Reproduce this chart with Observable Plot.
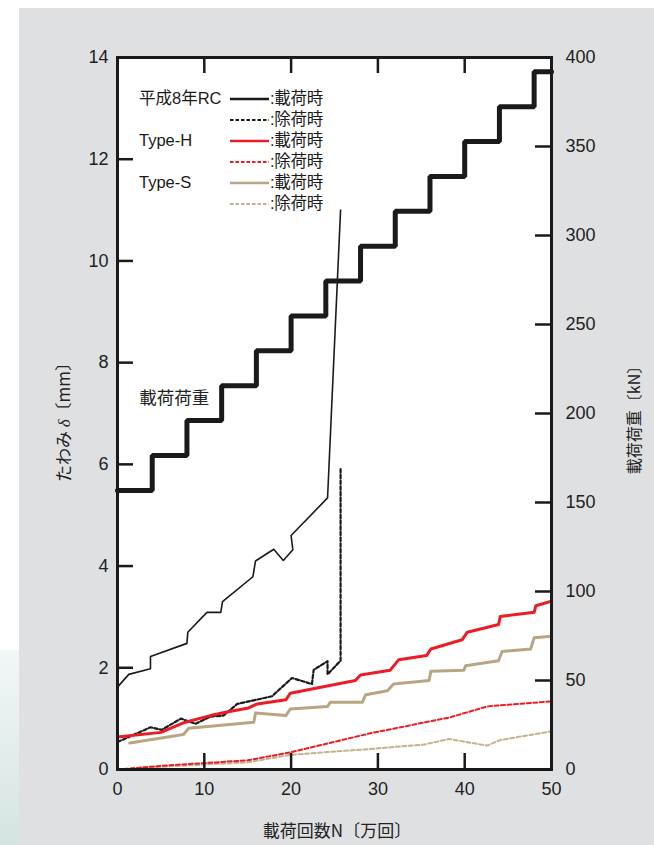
<!DOCTYPE html>
<html>
<head>
<meta charset="utf-8">
<script src="https://cdn.jsdelivr.net/npm/d3@7"></script>
<script src="https://cdn.jsdelivr.net/npm/@observablehq/plot@0.6"></script>
<style>
  html, body { margin: 0; padding: 0; background: #fff; }
  #wrap { position: relative; width: 654px; height: 845px; overflow: hidden; background: #fff; }
  #strip { position: absolute; left: 0; top: 650px; width: 19px; height: 195px;
           background: linear-gradient(to bottom, #f2f7f6, #d4e4e2); }
  #panel { position: absolute; left: 19px; top: 8px; width: 635px; height: 837px; background: #dfe0e2; }
  #chart { position: absolute; left: 0; top: 0; }
  .lbl { position: absolute; font-family: "Noto Sans CJK JP", "Liberation Sans", sans-serif; color: #222; white-space: nowrap; }
  #legend { position: absolute; left: 139px; top: 88px; font-family: "Liberation Sans", "Noto Sans CJK JP", sans-serif; font-size: 16px; color: #1a1a1a; }
  .row { position: relative; height: 21px; width: 200px; }
  .row .g { position: absolute; display: block; left: 0; top: 1px; height: 19px; line-height: 19px; font-size: 16.5px; }
  .row svg { position: absolute; left: 91px; top: 0; }
  .row .t { position: absolute; display: block; left: 131px; top: 1px; height: 19px; line-height: 19px; font-size: 16.5px;
            font-family: "Liberation Sans", "Noto Sans CJK JP", sans-serif; letter-spacing: -0.3px; }
</style>
</head>
<body>
<div id="wrap">
  <div id="strip"></div>
  <div id="panel"></div>
  <div id="chart"></div>
  <div id="legend"></div>
  <div class="lbl" id="xlab" style="left:0; width:674px; top:817px; text-align:center; font-size:17px;">載荷回数N〔万回〕</div>
  <div class="lbl" id="ylabL" style="left:62px; top:418px; font-size:17px; transform: translate(-50%,-50%) rotate(-90deg);">たわみ <i style="font-family:'Liberation Serif',serif;">δ</i>〔mm〕</div>
  <div class="lbl" id="ylabR" style="left:633px; top:416px; font-size:16px; transform: translate(-50%,-50%) rotate(-90deg);">載荷荷重〔kN〕</div>
</div>
<script>
// ---- data ----
const loadN  = [0, 4, 8, 12, 16, 20, 24, 28, 32, 36, 40, 44, 48, 50];
const loadKN = [156.8, 176.4, 196, 215.6, 235.2, 254.8, 274.4, 294, 313.6, 333.2, 352.8, 372.4, 392, 392];

const rcLoadN = [0, 1.3, 3.8, 3.8, 8.0, 8.1, 10.3, 11.9, 12.1, 15.6, 15.9, 18.0, 19.1, 20.2, 20.0, 24.2, 25.7];
const rcLoadD = [1.62, 1.87, 1.98, 2.22, 2.48, 2.70, 3.09, 3.09, 3.30, 3.79, 4.10, 4.33, 4.11, 4.32, 4.60, 5.34, 11.0];

const rcUnN = [0, 3.8, 5.1, 7.3, 9.0, 10.7, 12.2, 13.8, 15.7, 17.8, 20.1, 22.4, 22.6, 24.2, 24.2, 25.7, 25.7];
const rcUnD = [0.54, 0.83, 0.78, 1.00, 0.90, 1.04, 1.06, 1.29, 1.36, 1.44, 1.80, 1.68, 1.96, 2.13, 1.87, 2.14, 5.91];

const hLoadN = [0, 5.0, 7.8, 10.7, 12.6, 15.1, 16.1, 19.4, 19.9, 27.4, 28.0, 31.4, 32.4, 35.6, 36.1, 39.7, 40.3, 43.9, 44.1, 48.0, 48.2, 50];
const hLoadD = [0.64, 0.73, 0.93, 1.06, 1.13, 1.21, 1.29, 1.37, 1.50, 1.75, 1.86, 1.95, 2.16, 2.24, 2.37, 2.55, 2.70, 2.85, 3.01, 3.09, 3.22, 3.31];

const sLoadN = [1.4, 7.6, 8.2, 15.7, 15.9, 19.4, 19.9, 24.2, 24.5, 28.2, 28.6, 31.1, 31.8, 35.9, 36.1, 39.9, 40.1, 43.9, 44.3, 47.6, 48.0, 50];
const sLoadD = [0.52, 0.69, 0.81, 0.93, 1.11, 1.06, 1.19, 1.24, 1.32, 1.32, 1.47, 1.55, 1.68, 1.75, 1.93, 1.95, 2.04, 2.14, 2.32, 2.37, 2.59, 2.62];

const hUnN = [0, 5.7, 15, 20, 28.8, 38.4, 42.6, 50];
const hUnD = [0, 0.08, 0.18, 0.34, 0.70, 1.03, 1.24, 1.34];

const sUnN = [0, 5.7, 15, 20, 28.8, 35.3, 38.2, 42.6, 44.1, 50];
const sUnD = [0, 0.06, 0.14, 0.29, 0.40, 0.49, 0.60, 0.47, 0.58, 0.75];

const xTicks  = [0, 10, 20, 30, 40, 50];
const yTicks  = [0, 2, 4, 6, 8, 10, 12, 14];
const kNTicks = [0, 50, 100, 150, 200, 250, 300, 350, 400];

const groups = ["平成8年RC", "Type-H", "Type-S"];
const states = [":載荷時", ":除荷時"];
const annotation = [{x: 2.5, y: 7.29, text: "載荷荷重"}];

// ---- styles ----
const BLACK = "#1a1a1a", RED = "#ec1c24", TAN = "#b8a682", TAN2 = "#c3b290";
const Y_MAX = 14, KN_MAX = 400;
const kn2mm = k => k * Y_MAX / KN_MAX;

const zip = (xs, ys) => xs.map((x, i) => ({x, y: ys[i]}));
const loadData = zip(loadN, loadKN.map(kn2mm));

const W = 654, H = 845, mL = 117, mR = 103, mT = 57, mB = 76;
const fw = W - mL - mR, fh = H - mT - mB, TK = 16;

const font = '"Liberation Sans", Arial, sans-serif';

const chart = Plot.plot({
  width: W, height: H,
  marginLeft: mL, marginRight: mR, marginTop: mT, marginBottom: mB,
  style: {background: "transparent", fontFamily: font, fontSize: "18px", color: "#222"},
  x: {domain: [0, 50]},
  y: {domain: [0, Y_MAX]},
  marks: [
    Plot.frame({fill: "white", stroke: null}),
    // data lines
    Plot.line(zip(sUnN, sUnD), {x: "x", y: "y", stroke: TAN2, strokeWidth: 2, strokeDasharray: "4,2.5"}),
    Plot.line(zip(hUnN, hUnD), {x: "x", y: "y", stroke: RED, strokeWidth: 2, strokeDasharray: "4,2.5"}),
    Plot.line(zip(sLoadN, sLoadD), {x: "x", y: "y", stroke: TAN, strokeWidth: 3}),
    Plot.line(zip(rcUnN, rcUnD), {x: "x", y: "y", stroke: BLACK, strokeWidth: 2.2, strokeDasharray: "3.5,2.2"}),
    Plot.line(zip(hLoadN, hLoadD), {x: "x", y: "y", stroke: RED, strokeWidth: 3}),
    Plot.line(zip(rcLoadN, rcLoadD), {x: "x", y: "y", stroke: BLACK, strokeWidth: 1.6}),
    Plot.line(loadData, {x: "x", y: "y", curve: "step-after", stroke: BLACK, strokeWidth: 5, strokeLinejoin: "miter"}),
    Plot.text(annotation, {x: "x", y: "y", text: "text", textAnchor: "start", fontSize: 17.5, fill: "#222",
      fontFamily: '"Noto Sans CJK JP", sans-serif'}),
    // inward ticks
    Plot.tickY(yTicks.slice(1, -1), {stroke: BLACK, strokeWidth: 2.5, insetRight: fw - TK}),
    Plot.tickY(kNTicks.slice(1, -1).map(kn2mm), {stroke: BLACK, strokeWidth: 2.5, insetLeft: fw - TK}),
    Plot.tickX(xTicks.slice(1, -1), {stroke: BLACK, strokeWidth: 2.5, insetTop: fh - TK}),
    Plot.tickX(xTicks.slice(1, -1), {stroke: BLACK, strokeWidth: 2.5, insetBottom: fh - TK}),
    Plot.frame({stroke: BLACK, strokeWidth: 3}),
    // axes labels
    Plot.axisY(yTicks, {anchor: "left", tickSize: 0, tickPadding: 9, label: null, fill: "#222",
      tickFormat: d => String(d)}),
    Plot.axisY(kNTicks.map(kn2mm), {anchor: "right", tickSize: 0, tickPadding: 14, label: null, fill: "#222",
      tickFormat: d => String(Math.round(d * KN_MAX / Y_MAX))}),
    Plot.axisX(xTicks, {anchor: "bottom", tickSize: 0, tickPadding: 13, label: null, fill: "#222",
      tickFormat: d => String(d)})
  ]
});
document.getElementById("chart").appendChild(chart);

// ---- legend ----
const legendRows = [];
const colors = [[BLACK, BLACK], [RED, RED], [TAN, TAN2]];
groups.forEach((g, gi) => states.forEach((s, si) => legendRows.push({
  group: si === 0 ? g : "", label: s, color: colors[gi][si], dashed: si === 1
})));
const leg = d3.select("#legend");
legendRows.forEach(r => {
  const row = leg.append("div").attr("class", "row");
  if (r.group) row.append("span").attr("class", "g").text(r.group);
  const svg = row.append("svg").attr("width", 40).attr("height", 21);
  svg.append("line").attr("x1", 0).attr("x2", 39).attr("y1", 11).attr("y2", 11)
    .attr("stroke", r.color).attr("stroke-width", r.dashed ? 2.2 : 2.6)
    .attr("stroke-dasharray", r.dashed ? "3.5,2" : null);
  row.append("span").attr("class", "t").text(r.label);
});
</script>
</body>
</html>
